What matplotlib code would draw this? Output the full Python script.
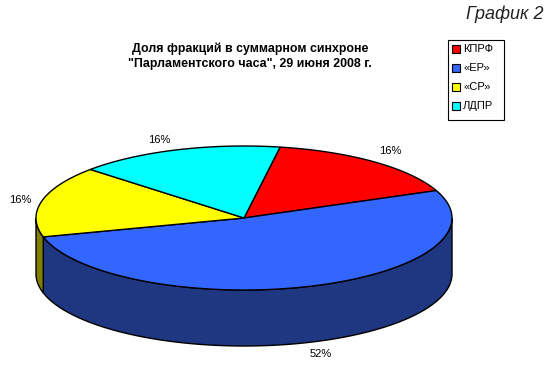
import numpy as np
import matplotlib
matplotlib.use("Agg")
import matplotlib.pyplot as plt
from matplotlib.patches import Polygon, Rectangle

plt.rcParams['font.family'] = ['Liberation Sans', 'DejaVu Sans']

categories = ["КПРФ", "«ЕР»", "«СР»", "ЛДПР"]
values = [16, 52, 16, 16]
labels = ["16%", "52%", "16%", "16%"]
top_colors = ["#FF0000", "#3366FF", "#FFFF00", "#00FFFF"]
side_colors = ["#800000", "#1F3680", "#808000", "#008080"]
title = "Доля фракций в суммарном синхроне\n\"Парламентского часа\", 29 июня 2008 г."
caption = "График 2"

W, H = 550, 372
fig = plt.figure(figsize=(W / 100, H / 100), dpi=100)
ax = fig.add_axes([0, 0, 1, 1])
ax.set_xlim(0, W)
ax.set_ylim(H, 0)
ax.axis("off")

cx, cy, a, b, depth = 244, 218, 208, 72, 56
start = 80.0

def pt(t, dz=0.0):
    r = np.radians(t)
    return cx + a * np.cos(r), cy - b * np.sin(r) + dz

total = sum(values)
bounds = []
t = start
for v in values:
    t2 = t - 360.0 * v / total
    bounds.append((t2, t))
    t = t2

# sides (visible where sin <= 0)
for (lo, hi), sc in zip(bounds, side_colors):
    for k in (-720, -360, 0, 360):
        vlo, vhi = max(lo, 180 + k), min(hi, 360 + k)
        if vhi > vlo:
            ts = np.linspace(vlo, vhi, 120)
            top = [pt(tt) for tt in ts]
            bot = [pt(tt, depth) for tt in ts[::-1]]
            ax.add_patch(Polygon(top + bot, closed=True, facecolor=sc,
                                 edgecolor="black", lw=1.0, zorder=2))

# top faces
for (lo, hi), tc in zip(bounds, top_colors):
    ts = np.linspace(lo, hi, 200)
    poly = [(cx, cy)] + [pt(tt) for tt in ts]
    ax.add_patch(Polygon(poly, closed=True, facecolor=tc,
                         edgecolor="black", lw=1.0, zorder=3))

# labels
offsets = [(0, 0), (2, -2), (3, 2), (-10, 4)]
for (lo, hi), lab, (ox, oy) in zip(bounds, labels, offsets):
    m = np.radians((lo + hi) / 2)
    lx = cx + a * 1.12 * np.cos(m) + ox
    ly = cy - b * 1.2 * np.sin(m) + (depth if np.sin(m) < 0 else 0) + oy
    ax.text(lx, ly, lab, ha="center", va="center", fontsize=8, zorder=5)

ax.text(250, 56, title, ha="center", va="center", fontsize=8.9,
        fontweight="bold", linespacing=1.35)
ax.text(543, 14, caption, ha="right", va="center", fontsize=13,
        style="italic", color="#222222")

# legend
ax.add_patch(Rectangle((448, 40), 56, 80, facecolor="white",
                       edgecolor="black", lw=0.8, zorder=4))
for i, (c, col) in enumerate(zip(categories, top_colors)):
    y = 49 + i * 19
    ax.add_patch(Rectangle((452, y - 4), 8, 8, facecolor=col,
                           edgecolor="black", lw=0.8, zorder=5))
    ax.text(463, y, c, ha="left", va="center", fontsize=8, zorder=5)

fig.savefig("out.png", dpi=100)
